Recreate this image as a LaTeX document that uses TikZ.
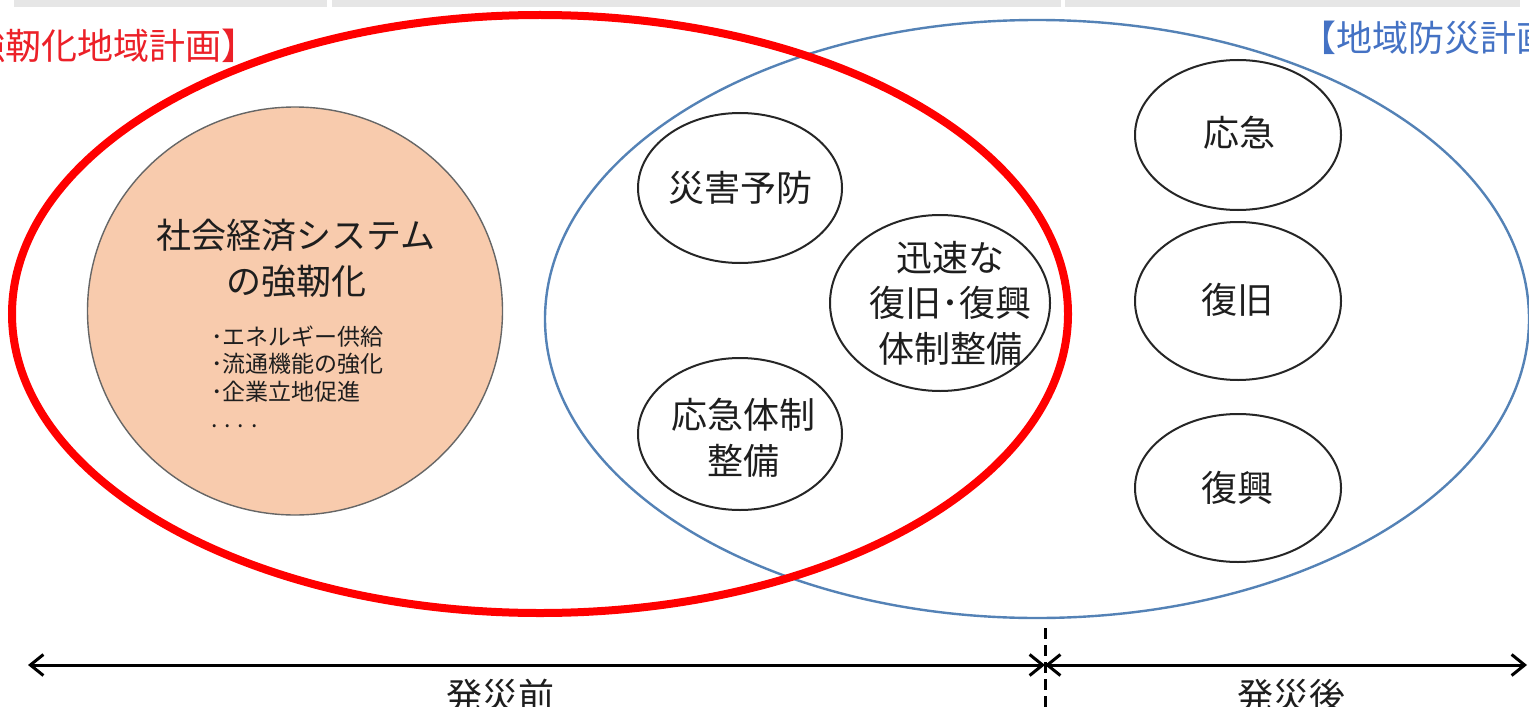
\documentclass[tikz,border=0pt]{standalone}
\usepackage{fontspec}
\setmainfont{Noto Sans CJK JP}
\usetikzlibrary{arrows.meta,shapes.geometric}
\definecolor{redline}{RGB}{255,0,0}
\definecolor{blueline}{RGB}{84,130,182}
\definecolor{bluetext}{RGB}{68,114,196}
\definecolor{redtext}{RGB}{236,32,40}
\definecolor{peach}{RGB}{248,203,173}
\definecolor{barg}{RGB}{230,230,230}
\definecolor{txt}{RGB}{30,30,30}
\tikzset{
  smallov/.style={ellipse, draw=black!85, line width=1pt, fill=white, inner sep=0pt},
  bigtxt/.style={font=\fontsize{18}{22.75}\selectfont, text=txt, align=center, inner sep=0pt},
  toplabel/.style={font=\fontsize{18}{22}\selectfont, inner sep=0pt},
  timeline/.style={line width=1.5pt, {Straight Barb[length=6.5pt,width=10.5pt]}-{Straight Barb[length=6.5pt,width=10.5pt]}},
  barrect/.style={fill=barg, draw=none}
}
\begin{document}
\begin{tikzpicture}[x=0.5pt,y=-0.5pt]
\useasboundingbox (0,0) rectangle (1529,706);
\clip (0,0) rectangle (1529,706);
\fill[white] (0,0) rectangle (1529,706);
% top bar
\fill[barrect] (14,0) rectangle (327,7);
\fill[barrect] (332,0) rectangle (1061,7);
\fill[barrect] (1065,0) rectangle (1520,7);
% labels
\node[toplabel, text=redtext, anchor=east] (redlab) at (258,46) {【国土強靭化地域計画】};
\node[toplabel, text=bluetext, anchor=west] (bluelab) at (1300,38) {【地域防災計画】};
% blue ellipse
\node[ellipse, draw=blueline, line width=1.2pt, minimum width=492pt, minimum height=299pt, inner sep=0pt] (bov) at (1037,319) {};
% orange circle
\node[ellipse, draw=black!60, line width=0.7pt, fill=peach, minimum width=207.5pt, minimum height=204pt, inner sep=0pt] (orange) at (295,311) {};
\node[font=\fontsize{17.5}{23}\selectfont, text=txt, align=center, inner sep=0pt] (otitle) at (296,258) {社会経済システム\\の強靭化};
\node[font=\fontsize{11.5}{13.8}\selectfont, text=txt, align=left, anchor=north west, inner sep=0pt] (olist) at (211,325) {･エネルギー供給\\･流通機能の強化\\･企業立地促進\\ . . . .};
% small ellipses
\node[smallov, minimum width=102pt, minimum height=75pt] (c1) at (740,188) {};
\node[bigtxt] (t1) at (740,188) {災害予防};
\node[smallov, minimum width=110pt, minimum height=88pt] (c2) at (940,303) {};
\node[bigtxt] (t2) at (950,303) {迅速な\\復旧･復興\\体制整備};
\node[smallov, minimum width=102pt, minimum height=76pt] (c3) at (740,434) {};
\node[bigtxt] (t3) at (743,438) {応急体制\\整備};
\node[smallov, minimum width=103pt, minimum height=75pt] (c4) at (1238,135) {};
\node[bigtxt] (t4) at (1239,133) {応急};
\node[smallov, minimum width=103pt, minimum height=79pt] (c5) at (1238,301) {};
\node[bigtxt] (t5) at (1237,300) {復旧};
\node[smallov, minimum width=103pt, minimum height=74pt] (c6) at (1238,488) {};
\node[bigtxt] (t6) at (1237,488) {復興};
% red ellipse
\node[ellipse, draw=redline, line width=4pt, minimum width=528pt, minimum height=299pt, inner sep=0pt] (rov) at (540,314) {};
% timeline
\coordinate (tl) at (28,665);
\coordinate (tm) at (1045,665);
\coordinate (tr) at (1527,665);
\coordinate (dtop) at (1045,628);
\coordinate (dbot) at (1045,712);
\draw[line width=1.5pt, dash pattern=on 5.5pt off 3pt] (dtop) -- (dbot);
\draw[timeline] (tl) -- (tm);
\draw[timeline] (tm) -- (tr);
\node[bigtxt] (before) at (500,696) {発災前};
\node[bigtxt] (after) at (1291,696) {発災後};
\end{tikzpicture}
\end{document}
